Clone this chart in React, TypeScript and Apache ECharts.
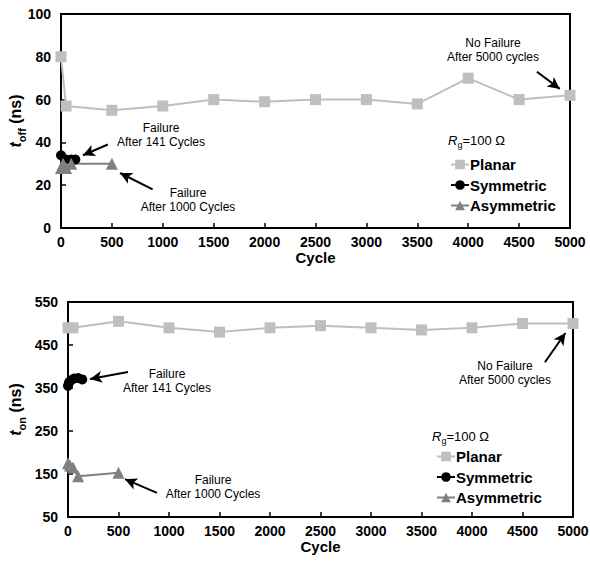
import React, { useEffect, useRef } from "react";
import * as echarts from "echarts";

const xTicks = [0, 500, 1000, 1500, 2000, 2500, 3000, 3500, 4000, 4500, 5000];
const tonTicks = [50, 150, 250, 350, 450, 550];

const planarCyclesTop = [0, 50, 500, 1000, 1500, 2000, 2500, 3000, 3500, 4000, 4500, 5000];
const planarToff = [80, 57, 55, 57, 60, 59, 60, 60, 58, 70, 60, 62];
const symCyclesTop = [0, 50, 100, 141];
const symToff = [34, 32, 32, 32];
const asymCyclesTop = [0, 20, 50, 100, 500];
const asymToff = [28, 30, 28, 30, 30];

const planarCyclesBot = [0, 50, 500, 1000, 1500, 2000, 2500, 3000, 3500, 4000, 4500, 5000];
const planarTon = [490, 490, 505, 490, 480, 490, 495, 490, 485, 490, 500, 500];
const symCyclesBot = [0, 10, 30, 60, 100, 141];
const symTon = [355, 363, 368, 372, 373, 370];
const asymCyclesBot = [0, 20, 50, 100, 500];
const asymTon = [175, 170, 165, 145, 153];

const zip = (xs: number[], ys: number[]) => xs.map((x, i) => [x, ys[i]]);

const FONT = "Liberation Sans, Arial, sans-serif";
const PLANAR = "#BFBFBF";
const SYM = "#000000";
const ASYM = "#808080";

export default function App() {
  const ref = useRef<HTMLDivElement>(null);
  useEffect(() => {
    document.body.style.margin = "0";
    const chart = echarts.init(ref.current!, null, { renderer: "svg" });

    const xAxisBase = (gi: number) => ({
      type: "value",
      gridIndex: gi,
      min: 0,
      max: 5000,
      interval: 500,
      name: "Cycle",
      nameLocation: "middle",
      nameGap: 22,
      nameTextStyle: { fontFamily: FONT, fontWeight: "bold", fontSize: 15, color: "#000" },
      axisLine: { lineStyle: { color: "#000", width: 2 } },
      axisTick: { inside: true, length: 5, customValues: xTicks, lineStyle: { color: "#000", width: 1.5 } },
      axisLabel: {
        fontFamily: FONT,
        fontWeight: "bold",
        fontSize: 14,
        color: "#000",
        margin: 7,
        customValues: xTicks,
        formatter: (v: number) => String(v),
      },
      splitLine: { show: false },
    });

    const richName = {
      t: { fontFamily: FONT, fontStyle: "italic", fontWeight: "bold", fontSize: 16, color: "#000", lineHeight: 24 },
      s: { fontFamily: FONT, fontWeight: "bold", fontSize: 11, color: "#000", verticalAlign: "bottom", lineHeight: 12 },
      n: { fontFamily: FONT, fontWeight: "bold", fontSize: 16, color: "#000", lineHeight: 24 },
    };

    const arrowLine = (pairs: number[][][]) => ({
      silent: true,
      symbol: ["none", "arrow"],
      symbolSize: [9, 12],
      label: { show: false },
      lineStyle: { color: "#000", width: 2, type: "solid" },
      data: pairs.map((p) => [{ coord: p[0] }, { coord: p[1] }]),
    });

    const seriesBase = (name: string, gi: number, data: number[][], color: string, symbol: string, size: number) => ({
      name,
      type: "line",
      xAxisIndex: gi,
      yAxisIndex: gi,
      data,
      symbol,
      symbolSize: size,
      lineStyle: { color, width: 2 },
      itemStyle: { color },
    });

    const annot = (x: number, y: number, lines: string) => ({
      type: "text",
      x,
      y,
      style: {
        text: lines,
        fontFamily: FONT,
        fontSize: 12,
        fill: "#000",
        align: "center",
        verticalAlign: "middle",
        lineHeight: 14.5,
      },
    });

    const rgText = (x: number, y: number) => ({
      type: "text",
      x,
      y,
      style: {
        text: "{r|R}{g|g}{n|=100 Ω}",
        verticalAlign: "middle",
        rich: {
          r: { fontFamily: FONT, fontStyle: "italic", fontSize: 13, fill: "#000", lineHeight: 18 },
          g: { fontFamily: FONT, fontSize: 9, fill: "#000", verticalAlign: "bottom", lineHeight: 12 },
          n: { fontFamily: FONT, fontSize: 13, fill: "#000", lineHeight: 18 },
        },
      },
    });

    const legendBase = (left: number, top: number) => ({
      orient: "vertical",
      left,
      top,
      itemWidth: 18,
      itemHeight: 12,
      itemGap: 5.5,
      data: ["Planar", "Symmetric", "Asymmetric"],
      textStyle: { fontFamily: FONT, fontWeight: "bold", fontSize: 15, color: "#000", padding: [0, 0, 0, -4] },
    });

    const gridBase = { show: true, borderColor: "#000", borderWidth: 2, backgroundColor: "transparent", containLabel: false, outerBoundsMode: "none" };

    chart.setOption({
      animation: false,
      backgroundColor: "#fff",
      grid: [
        { ...gridBase, left: 61, right: 20, top: 14, height: 214 },
        { ...gridBase, left: 68, right: 17, top: 302, height: 215 },
      ],
      legend: [legendBase(445, 152), legendBase(431, 444)],
      xAxis: [xAxisBase(0), xAxisBase(1)],
      yAxis: [
        {
          type: "value",
          gridIndex: 0,
          min: 0,
          max: 100,
          interval: 20,
          name: "{t|t}{s|off}{n| (ns)}",
          nameLocation: "middle",
          nameGap: 34,
          nameMoveOverlap: false,
          nameTextStyle: { rich: richName },
          axisLine: { lineStyle: { color: "#000", width: 2 } },
          axisTick: { inside: true, length: 5, lineStyle: { color: "#000", width: 1.5 } },
          axisLabel: { fontFamily: FONT, fontWeight: "bold", fontSize: 14, color: "#000", margin: 10 },
          splitLine: { show: false },
        },
        {
          type: "value",
          gridIndex: 1,
          min: 50,
          max: 550,
          name: "{t|t}{s|on}{n| (ns)}",
          nameLocation: "middle",
          nameGap: 41,
          nameMoveOverlap: false,
          nameTextStyle: { rich: richName },
          axisLine: { lineStyle: { color: "#000", width: 2 } },
          axisTick: { inside: true, length: 5, customValues: tonTicks, lineStyle: { color: "#000", width: 1.5 } },
          axisLabel: { fontFamily: FONT, fontWeight: "bold", fontSize: 14, color: "#000", margin: 10, customValues: tonTicks },
          splitLine: { show: false },
        },
      ],
      series: [
        {
          ...seriesBase("Planar", 0, zip(planarCyclesTop, planarToff), PLANAR, "rect", 11),
          markLine: arrowLine([
            [[460, 39], [215, 34]],
            [[900, 18], [580, 25.7]],
            [[4675, 73], [4900, 65]],
          ]),
        },
        seriesBase("Symmetric", 0, zip(symCyclesTop, symToff), SYM, "circle", 10),
        seriesBase("Asymmetric", 0, zip(asymCyclesTop, asymToff), ASYM, "triangle", 12),
        {
          ...seriesBase("Planar", 1, zip(planarCyclesBot, planarTon), PLANAR, "rect", 11),
          markLine: arrowLine([
            [[594, 387], [218, 371]],
            [[881, 106], [564, 138]],
            [[4722, 410], [4925, 478]],
          ]),
        },
        seriesBase("Symmetric", 1, zip(symCyclesBot, symTon), SYM, "circle", 10),
        seriesBase("Asymmetric", 1, zip(asymCyclesBot, asymTon), ASYM, "triangle", 12),
      ],
      graphic: [
        annot(161, 135, "Failure\nAfter 141 Cycles"),
        annot(188, 200, "Failure\nAfter 1000 Cycles"),
        annot(493, 50, "No Failure\nAfter 5000 cycles"),
        annot(167, 381, "Failure\nAfter 141 Cycles"),
        annot(213, 487, "Failure\nAfter 1000 Cycles"),
        annot(505, 373, "No Failure\nAfter 5000 cycles"),
        rgText(448, 140),
        rgText(432, 436),
      ],
    });
    return () => chart.dispose();
  }, []);
  return <div ref={ref} style={{ width: 590, height: 564 }} />;
}
